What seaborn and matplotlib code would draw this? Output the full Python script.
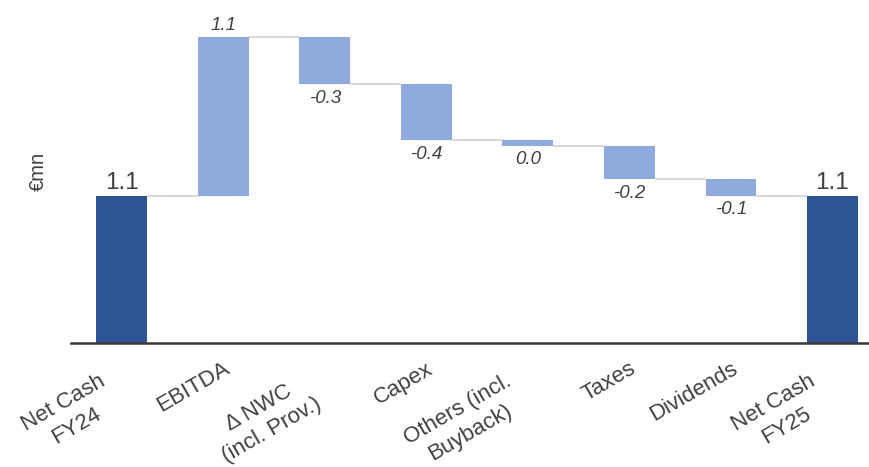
import numpy as np
import pandas as pd
import matplotlib
matplotlib.use("Agg")
import matplotlib.pyplot as plt
import seaborn as sns

# Cash bridge FY24 -> FY25 (€mn)
categories = ["Net Cash\nFY24", "EBITDA", "Δ NWC\n(incl. Prov.)", "Capex",
              "Others (incl.\nBuyback)", "Taxes", "Dividends", "Net Cash\nFY25"]
opening_cash = 1.06
changes = [1.14, -0.34, -0.40, -0.04, -0.24, -0.12]

TOTAL_COLOR = "#2F5597"
STEP_COLOR = "#8FAADC"
TEXT_COLOR = "#404040"
CONNECTOR_COLOR = "#D9D9D9"

# Running levels of the bridge
levels = np.concatenate([[opening_cash], opening_cash + np.cumsum(changes)])
closing_cash = levels[-1]

values = [opening_cash] + changes + [closing_cash]
kinds = ["total"] + ["step"] * len(changes) + ["total"]
bottoms = [0.0]
heights = [opening_cash]
for i, c in enumerate(changes):
    start, end = levels[i], levels[i + 1]
    bottoms.append(min(start, end))
    heights.append(abs(c))
bottoms.append(0.0)
heights.append(closing_cash)

df = pd.DataFrame({"step": categories, "height": heights, "bottom": bottoms,
                   "kind": kinds, "value": values})

sns.set_theme(style="white")
plt.rcParams["font.family"] = ["Liberation Sans", "DejaVu Sans"]

fig = plt.figure(figsize=(8.7, 4.67), dpi=100)
ax = fig.add_axes([71 / 870, 124 / 467, 799 / 870, 343 / 467])

sns.barplot(data=df, x="step", y="height", hue="kind", order=categories,
            palette={"total": TOTAL_COLOR, "step": STEP_COLOR},
            dodge=False, width=0.5, legend=False, saturation=1, ax=ax)

# Float each bar on its bridge level
bars = sorted(ax.patches, key=lambda p: p.get_x())
for bar, b in zip(bars, df["bottom"]):
    bar.set_y(b)
    bar.set_edgecolor("none")

# Connectors between consecutive bars
half = 0.25
for i, lvl in enumerate(levels):
    ax.plot([i + half, i + 1 - half], [lvl, lvl], color=CONNECTOR_COLOR,
            lw=1.5, zorder=1, solid_capstyle="butt")


def fmt(v):
    s = f"{v:.1f}"
    return "0.0" if s == "-0.0" else s


# Value labels
for i, row in df.iterrows():
    if row["kind"] == "total":
        ax.annotate(fmt(row["value"]), (i, row["bottom"] + row["height"]),
                    xytext=(0, 5), textcoords="offset points",
                    ha="center", va="baseline", fontsize=17.5, color=TEXT_COLOR)
    elif row["value"] >= 0.05:
        ax.annotate(fmt(row["value"]), (i, row["bottom"] + row["height"]),
                    xytext=(0, 5), textcoords="offset points",
                    ha="center", va="baseline", fontsize=13.5, style="italic",
                    color=TEXT_COLOR)
    else:
        ax.annotate(fmt(row["value"]), (i, row["bottom"]),
                    xytext=(0, -4), textcoords="offset points",
                    ha="center", va="top", fontsize=13.5, style="italic",
                    color=TEXT_COLOR)

ax.set_xlim(-0.5, 7.37)
ax.set_ylim(0, 343 / 139)
ax.set_yticks([])
ax.set_xlabel("")
ax.set_ylabel("€mn", fontsize=14.5, color=TEXT_COLOR, labelpad=17)
for side in ["left", "right", "top"]:
    ax.spines[side].set_visible(False)
ax.spines["bottom"].set_color("#3A3A3A")
ax.spines["bottom"].set_linewidth(1.8)

# Category labels, rotated; wrapped labels sit further back along their slant
ax.set_xticks(range(len(categories)))
ax.set_xticklabels([])
ax.tick_params(axis="x", length=0)
for i, cat in enumerate(categories):
    dx, dy = (-17, -20) if "\n" in cat else (0, -11)
    ax.annotate(cat, xy=(i, 0), xycoords=("data", "axes fraction"),
                xytext=(dx, dy), textcoords="offset points",
                rotation=30, rotation_mode="anchor", ha="right", va="top",
                multialignment="center", linespacing=1.3, fontsize=16,
                color=TEXT_COLOR, annotation_clip=False)

fig.savefig("out.png", dpi=100, facecolor="white")
